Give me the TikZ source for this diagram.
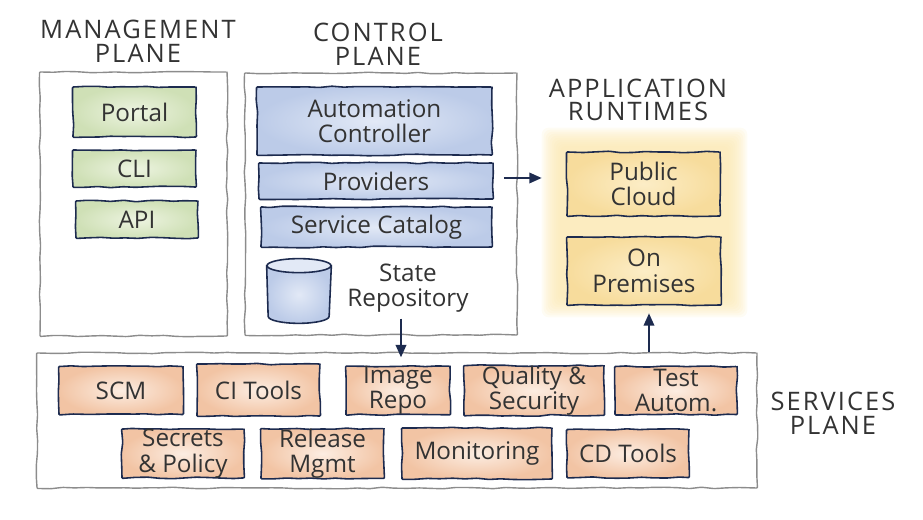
\documentclass[tikz,border=0pt]{standalone}
\usepackage{fontspec}
\setmainfont{Open Sans}
\newfontfamily\titlefont[LetterSpace=8]{Open Sans}
\usetikzlibrary{arrows.meta,decorations.pathmorphing,calc}

\definecolor{inkblue}{HTML}{1D2B4F}
\definecolor{textgray}{HTML}{333333}
\definecolor{planegray}{HTML}{8C8C8C}
\definecolor{greenIn}{HTML}{EDF4E1}
\definecolor{greenOut}{HTML}{CFE0B6}
\definecolor{blueIn}{HTML}{E2E9F6}
\definecolor{blueOut}{HTML}{BCCBE8}
\definecolor{orangeIn}{HTML}{FCEDE2}
\definecolor{orangeOut}{HTML}{F2C4A4}
\definecolor{yellowIn}{HTML}{FCEDC6}
\definecolor{yellowOut}{HTML}{F7DC9C}
\definecolor{glowyellow}{HTML}{FBE7AE}

\newcommand{\boxfont}{\fontsize{13.8}{14.5}\selectfont}
\newcommand{\planefont}{\titlefont\fontsize{14.5}{13.5}\selectfont}

\begin{document}
\begin{tikzpicture}
    % --- Dimensions ---
    \def\RowA{2.59}     % y of first services row
    \def\RowB{1.33}     % y of second services row
    \def\SrvH{0.96}     % height of a services box
    \def\GlowStep{0.04} % shrink per glow layer
    \def\DbR{0.64}      % half width of the state repository drum
    \def\DbE{0.14}      % half height of its ellipses

    % --- Styles ---
    \tikzset{
        sketch/.style={
            decorate,
            decoration={random steps, segment length=7pt, amplitude=0.45pt},
            rounded corners=0.5pt
        },
        plane box/.style={
            sketch,
            draw=planegray,
            line width=0.8pt,
            inner sep=0pt
        },
        comp box/.style={
            sketch,
            draw=inkblue,
            line width=0.9pt,
            text=textgray,
            align=center,
            inner sep=0pt,
            font=\boxfont
        },
        mgmt box/.style={comp box, inner color=greenIn, outer color=greenOut},
        ctrl box/.style={comp box, inner color=blueIn, outer color=blueOut},
        srv box/.style={comp box, inner color=orangeIn, outer color=orangeOut,
            minimum height=\SrvH cm},
        rt box/.style={comp box, inner color=yellowIn, outer color=yellowOut},
        plane title/.style={font=\planefont, text=textgray, align=center},
        flow/.style={-{Triangle[length=7pt,width=6pt]}, draw=inkblue, line width=1pt}
    }

    \pgfmathsetseed{11}
    \useasboundingbox (0,0) rectangle (18.46,10.4);

    % =========================================================
    % 1. PLANES
    % =========================================================
    \node[plane box, minimum width=3.74cm, minimum height=5.28cm] (mgmt) at (2.67,6.32) {};
    \node[plane box, minimum width=5.44cm, minimum height=5.24cm] (ctrl) at (7.62,6.32) {};
    \node[plane box, minimum width=14.40cm, minimum height=2.70cm] (services) at (7.94,1.99) {};

    % Application runtimes glow (no border, soft edges)
    \node[minimum width=4.10cm, minimum height=3.78cm, inner sep=0pt] (apprt) at (12.89,5.95) {};
    \foreach \k in {0,...,9} {
        \fill[glowyellow, opacity=0.14, rounded corners=4pt]
            ($(apprt.south west)+(\k*\GlowStep,\k*\GlowStep)$) rectangle
            ($(apprt.north east)-(\k*\GlowStep,\k*\GlowStep)$);
    }

    % Plane titles
    \node[plane title] (mgmtT) at (2.76,9.57) {MANAGEMENT\\PLANE};
    \node[plane title] (ctrlT) at (7.56,9.52) {CONTROL\\PLANE};
    \node[plane title] (apprtT) at (12.76,8.40) {APPLICATION\\RUNTIMES};
    \node[plane title] (servicesT) at (16.66,2.13) {SERVICES\\PLANE};

    % =========================================================
    % 2. MANAGEMENT PLANE
    % =========================================================
    \node[mgmt box, minimum width=2.46cm, minimum height=1.00cm] (portal) at (2.69,8.16) {Portal};
    \node[mgmt box, minimum width=2.46cm, minimum height=0.74cm] (cli) at (2.69,7.03) {CLI};
    \node[mgmt box, minimum width=2.44cm, minimum height=0.74cm] (api) at (2.74,6.01) {API};

    % =========================================================
    % 3. CONTROL PLANE
    % =========================================================
    \node[ctrl box, minimum width=4.70cm, minimum height=1.36cm] (auto) at (7.49,7.98) {Automation\\Controller};
    \node[ctrl box, minimum width=4.68cm, minimum height=0.72cm] (prov) at (7.52,6.78) {Providers};
    \node[ctrl box, minimum width=4.62cm, minimum height=0.80cm] (catalog) at (7.53,5.86) {Service Catalog};

    % State repository (drum drawn round its node)
    \node[minimum width=1.28cm, minimum height=1.28cm, inner sep=0pt] (statedb) at (5.98,4.58) {};
    \shade[inner color=blueIn, outer color=blueOut, draw=inkblue, line width=0.9pt]
        ($(statedb.north west)+(0,-\DbE)$) -- ($(statedb.south west)+(0.03,\DbE)$)
        arc[start angle=180, end angle=360, x radius=\DbR cm-0.03cm, y radius=\DbE cm]
        -- ($(statedb.north east)+(0,-\DbE)$) -- cycle;
    \fill[blueIn, draw=inkblue, line width=0.9pt]
        ($(statedb.north)+(0,-\DbE)$) ellipse[x radius=\DbR cm, y radius=\DbE cm];
    \node[font=\boxfont, text=textgray, align=center] (staterepo) at (8.16,4.64) {State\\Repository};

    % =========================================================
    % 4. APPLICATION RUNTIMES
    % =========================================================
    \node[rt box, minimum width=3.06cm, minimum height=1.28cm] (pubcloud) at (12.87,6.72) {Public\\Cloud};
    \node[rt box, minimum width=3.08cm, minimum height=1.36cm] (onprem) at (12.88,4.98) {On\\Premises};

    % =========================================================
    % 5. SERVICES PLANE
    % =========================================================
    \node[srv box, minimum width=2.48cm] (scm) at (2.42,\RowA) {SCM};
    \node[srv box, minimum width=2.46cm, minimum height=1.04cm] (citools) at (5.17,2.60) {CI Tools};
    \node[srv box, minimum width=2.08cm] (imgrepo) at (7.96,\RowA) {Image\\Repo};
    \node[srv box, minimum width=2.80cm] (quality) at (10.68,\RowA) {Quality \&\\Security};
    \node[srv box, minimum width=2.44cm] (testauto) at (13.52,\RowA) {Test\\Autom.};

    \node[srv box, minimum width=2.44cm] (secrets) at (3.66,\RowB) {Secrets\\\& Policy};
    \node[srv box, minimum width=2.46cm] (release) at (6.45,\RowB) {Release\\Mgmt};
    \node[srv box, minimum width=3.00cm, minimum height=1.02cm] (monitor) at (9.54,\RowB) {Monitoring};
    \node[srv box, minimum width=2.44cm] (cdtools) at (12.56,\RowB) {CD Tools};

    % =========================================================
    % 6. FLOWS
    % =========================================================
    \draw[flow] ([xshift=0.2cm, yshift=0.06cm]prov.east) -- ([yshift=0.06cm]apprt.west |- prov.east);
    \draw[flow] ([xshift=-0.14cm]staterepo.south) -- ([xshift=-0.14cm, yshift=-0.1cm]staterepo.south |- services.north);
    \draw[flow] ([xshift=0.1cm]onprem.south |- services.north) -- ([xshift=0.1cm, yshift=0.08cm]onprem.south |- apprt.south);

\end{tikzpicture}
\end{document}
